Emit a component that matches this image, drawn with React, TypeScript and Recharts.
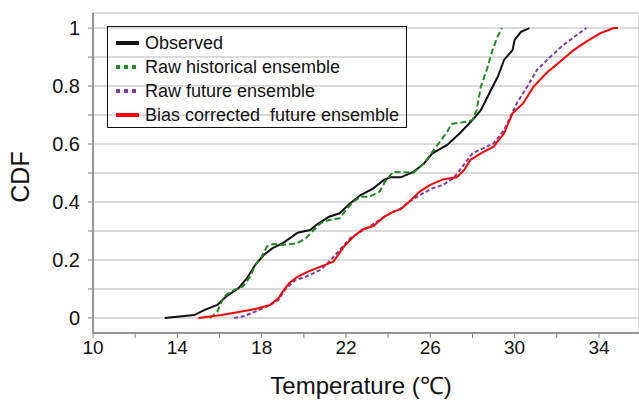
import {
  CartesianGrid,
  Legend,
  Line,
  LineChart,
  XAxis,
  YAxis
} from "recharts";

// temperature (°C) / CDF pairs
const obsT = [13.4, 14.8, 15.3, 15.9, 16.3, 16.9, 17.3, 17.7, 18.1, 18.5, 19.0, 19.4, 19.7, 20.3, 20.6, 21.2, 21.7, 22.2, 22.7, 23.3, 23.8, 24.1, 24.6, 25.2, 25.7, 26.1, 26.8, 27.4, 28.0, 28.4, 28.8, 29.2, 29.5, 29.9, 30.0, 30.3, 30.7];
const obsP = [0, 0.01, 0.028, 0.045, 0.073, 0.102, 0.137, 0.183, 0.217, 0.24, 0.258, 0.278, 0.294, 0.303, 0.321, 0.349, 0.361, 0.396, 0.424, 0.447, 0.476, 0.485, 0.485, 0.504, 0.533, 0.568, 0.597, 0.637, 0.683, 0.717, 0.775, 0.832, 0.89, 0.924, 0.959, 0.987, 1];

const histT = [15.55, 15.9, 16.1, 16.3, 16.7, 17.1, 17.45, 17.7, 18.0, 18.25, 18.55, 19.0, 19.7, 20.1, 20.4, 20.8, 21.2, 21.7, 22.0, 22.35, 22.7, 23.1, 23.6, 23.9, 24.25, 25.2, 25.7, 26.1, 26.4, 26.8, 27.0, 27.7, 28.0, 28.2, 28.4, 28.7, 28.9, 29.15, 29.4];
const histP = [0, 0.022, 0.056, 0.079, 0.097, 0.108, 0.142, 0.183, 0.211, 0.246, 0.255, 0.252, 0.258, 0.275, 0.298, 0.327, 0.338, 0.344, 0.372, 0.401, 0.418, 0.418, 0.436, 0.476, 0.504, 0.501, 0.533, 0.573, 0.602, 0.642, 0.669, 0.677, 0.683, 0.717, 0.798, 0.861, 0.913, 0.964, 1];

const futT = [16.7, 17.2, 17.7, 18.3, 18.8, 19.1, 19.6, 20.1, 20.45, 20.8, 21.2, 21.7, 22.2, 22.7, 23.1, 23.6, 24.1, 24.6, 25.0, 25.5, 26.1, 26.6, 27.1, 27.4, 28.0, 28.5, 29.0, 29.5, 29.8, 30.1, 30.6, 31.05, 31.7, 32.3, 32.95, 33.4];
const futP = [0, 0.007, 0.022, 0.041, 0.062, 0.097, 0.131, 0.142, 0.154, 0.166, 0.194, 0.234, 0.275, 0.298, 0.315, 0.338, 0.361, 0.378, 0.401, 0.424, 0.447, 0.459, 0.482, 0.51, 0.568, 0.585, 0.602, 0.648, 0.694, 0.74, 0.798, 0.855, 0.901, 0.941, 0.976, 1];

const bcT = [15.0, 16.1, 17.05, 17.7, 18.4, 18.8, 19.0, 19.3, 19.7, 20.2, 20.8, 21.4, 21.9, 22.35, 22.8, 23.3, 23.8, 24.25, 24.6, 25.0, 25.5, 26.0, 26.6, 27.25, 27.6, 27.9, 28.4, 29.0, 29.5, 29.9, 30.4, 30.9, 31.5, 32.15, 32.8, 33.4, 34.05, 34.7, 34.9];
const bcP = [0, 0.01, 0.022, 0.031, 0.045, 0.068, 0.091, 0.12, 0.142, 0.16, 0.177, 0.194, 0.246, 0.28, 0.306, 0.317, 0.349, 0.367, 0.375, 0.401, 0.436, 0.459, 0.478, 0.485, 0.51, 0.545, 0.568, 0.591, 0.637, 0.706, 0.74, 0.798, 0.844, 0.884, 0.924, 0.953, 0.982, 1, 1];

const xTicks = [10, 12, 14, 16, 18, 20, 22, 24, 26, 28, 30, 32, 34];
const yTicks = [0, 0.1, 0.2, 0.3, 0.4, 0.5, 0.6, 0.7, 0.8, 0.9, 1];
// the figure's vertical grid is not aligned with the temperature ticks
const gridTicks = [1, 2, 3, 4, 5, 6, 7, 8, 9, 10, 11, 12];

const seriesNames = ["Observed", "Raw historical ensemble", "Raw future ensemble", "Bias corrected  future ensemble"];

const toPoints = (ts: number[], ps: number[]) => ts.map((t, i) => ({ t, p: ps[i] }));

const series = [
  { name: seriesNames[0], data: toPoints(obsT, obsP), color: "#111111", dash: undefined, legendDash: undefined },
  { name: seriesNames[1], data: toPoints(histT, histP), color: "#1f8a1f", dash: "6 3", legendDash: "4 4" },
  { name: seriesNames[2], data: toPoints(futT, futP), color: "#7b3a9c", dash: "4 2.5", legendDash: "4 4" },
  { name: seriesNames[3], data: toPoints(bcT, bcP), color: "#ff0000", dash: undefined, legendDash: undefined }
];

const FONT = "'Liberation Sans', Arial, sans-serif";

function LegendBox() {
  return (
    <div
      style={{
        border: "1.5px solid #111",
        width: 300,
        height: 102,
        boxSizing: "border-box",
        paddingTop: 4,
        fontFamily: FONT,
        fontSize: 18,
        color: "#111"
      }}
    >
      {series.map((s) => (
        <div key={s.name} style={{ display: "flex", alignItems: "center", height: 24, whiteSpace: "pre" }}>
          <svg width={30} height={10} style={{ marginLeft: 7, flexShrink: 0 }}>
            <line
              x1={1}
              x2={24}
              y1={5}
              y2={5}
              stroke={s.color}
              strokeWidth={4}
              strokeDasharray={s.legendDash}
            />
          </svg>
          <span>{s.name}</span>
        </div>
      ))}
    </div>
  );
}

export default function App() {
  return (
    <div style={{ position: "absolute", left: 0, top: 0, width: 639, height: 403, background: "#fff" }}>
      <LineChart width={639} height={403} margin={{ top: 13, right: 0, left: 0, bottom: 0 }}>
        <XAxis
          xAxisId="grid"
          orientation="top"
          type="number"
          domain={[0, 12.325]}
          ticks={gridTicks}
          height={0}
          tick={false}
          tickLine={false}
          axisLine={{ stroke: "#808080", strokeWidth: 2 }}
        />
        <CartesianGrid xAxisId="grid" stroke="#cfcfcf" strokeWidth={1.5} />
        <XAxis
          dataKey="t"
          type="number"
          domain={[10, 35.9]}
          ticks={xTicks}
          allowDataOverflow
          height={70}
          tickSize={5}
          tickMargin={3}
          tickFormatter={(v: number) => ((v - 10) % 4 === 0 ? String(v) : "")}
          tick={{ fill: "#111", fontSize: 19, fontFamily: FONT }}
          stroke="#808080"
          axisLine={{ stroke: "#808080", strokeWidth: 1.5 }}
          label={{
            value: "Temperature (℃)",
            position: "insideBottom",
            offset: 9,
            dx: -5,
            style: { fill: "#111", fontSize: 24, fontFamily: FONT }
          }}
        />
        <YAxis
          type="number"
          domain={[-0.052, 1.052]}
          ticks={yTicks}
          allowDataOverflow
          width={93}
          tickSize={5}
          tickMargin={8}
          tickFormatter={(v: number) => (Math.round(v * 10) % 2 === 0 ? String(Math.round(v * 10) / 10) : "")}
          tick={{ fill: "#111", fontSize: 20, fontFamily: FONT }}
          stroke="#808080"
          axisLine={{ stroke: "#808080", strokeWidth: 1.5 }}
          label={{
            value: "CDF",
            angle: -90,
            position: "insideLeft",
            offset: 20,
            dy: 4,
            style: { fill: "#111", fontSize: 25, fontFamily: FONT, textAnchor: "middle" }
          }}
        />
        <Legend
          layout="horizontal"
          verticalAlign="middle"
          align="center"
          content={() => <LegendBox />}
          wrapperStyle={{ position: "absolute", left: 107, top: 26, width: 300 }}
        />
        {series.map((s) => (
          <Line
            key={s.name}
            data={s.data}
            dataKey="p"
            name={s.name}
            type="linear"
            stroke={s.color}
            strokeWidth={2}
            strokeDasharray={s.dash}
            dot={false}
            activeDot={false}
            isAnimationActive={false}
          />
        ))}
      </LineChart>
    </div>
  );
}
